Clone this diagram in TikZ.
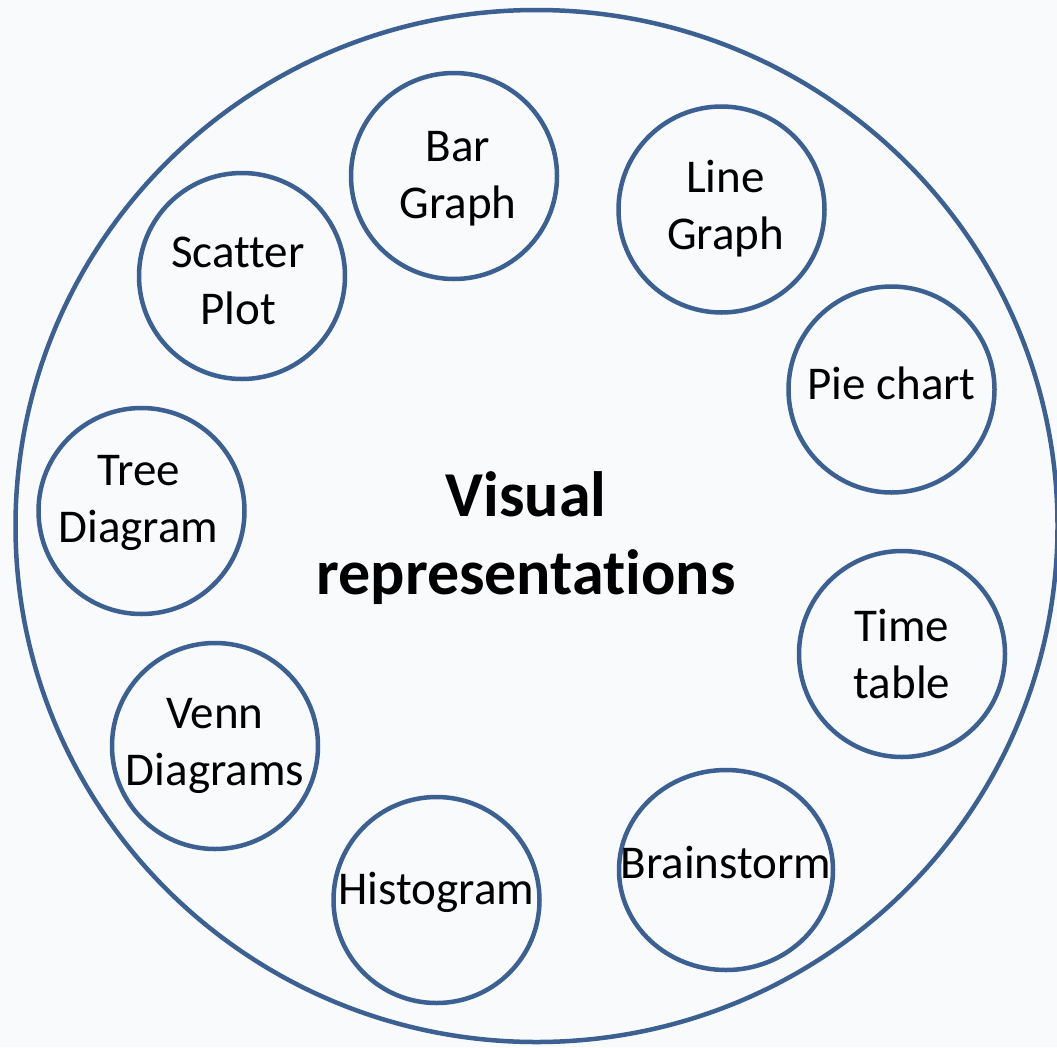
\documentclass[tikz,border=0pt]{standalone}
\usepackage{fontspec}
\setmainfont{Carlito}[Ligatures=NoCommon]
\usetikzlibrary{shapes.geometric}
\definecolor{ringblue}{HTML}{3B6091}
\definecolor{paper}{HTML}{F8FAFC}
\tikzset{
  ring/.style={draw=ringblue, line width=4.5pt},
  topic/.style={ring, circle, minimum size=206pt, inner sep=0pt},
  topictext/.style={align=center, inner sep=0pt,
    font=\fontsize{47}{57}\selectfont},
}
\newcommand{\tl}[1]{\strut #1}
\begin{document}
\begin{tikzpicture}[x=1pt, y=-1pt]
  \fill[paper] (0,0) rectangle (1057,1047);
  \useasboundingbox (0,0) rectangle (1057,1047);
  % outer ring
  \node[ring, ellipse, minimum width=1042pt, minimum height=1032pt, inner sep=0pt] (outer) at (536.5,526) {};
  % central title
  \node[align=center, font=\bfseries\fontsize{64}{78}\selectfont] (title) at (526,538) {Visual\\representations};
  % topic rings
  \node[topic] (bar)     at (454,176) {};
  \node[topic] (line)    at (721.5,209.5) {};
  \node[topic] (scatter) at (242,276) {};
  \node[topic] (pie)     at (891.5,389.5) {};
  \node[topic] (tree)    at (141.5,511) {};
  \node[topic] (time)    at (902,654) {};
  \node[topic] (venn)    at (215,746) {};
  \node[topic] (histo)   at (436.5,900) {};
  \node[ring, ellipse, minimum width=214pt, minimum height=200pt, inner sep=0pt] (brain) at (726,870) {};
  % topic labels (shifts are in page points: positive yshift moves up)
  \node[topictext] (bar-t)     at ([xshift=4pt,yshift=-3pt]bar)      {\tl{Bar}\\\tl{Graph}};
  \node[topictext] (line-t)    at ([xshift=4pt]line)                 {\tl{Line}\\\tl{Graph}};
  \node[topictext] (scatter-t) at ([xshift=-4pt,yshift=-9pt]scatter) {\tl{Scatter}\\\tl{Plot}};
  \node[topictext] (pie-t)     at ([yshift=1pt]pie)                  {\tl{Pie chart}};
  \node[topictext] (tree-t)    at ([xshift=-3pt,yshift=8pt]tree)     {\tl{Tree}\\\tl{Diagram}};
  \node[topictext] (time-t)    at ([yshift=-5pt]time)                {\tl{Time}\\\tl{table}};
  \node[topictext] (venn-t)    at (venn)                             {\tl{Venn}\\\tl{Diagrams}};
  \node[topictext] (histo-t)   at ([yshift=7pt]histo)                {\tl{Histogram}};
  \node[topictext] (brain-t)   at ([yshift=3pt]brain)                {\tl{Brainstorm}};
\end{tikzpicture}
\end{document}
